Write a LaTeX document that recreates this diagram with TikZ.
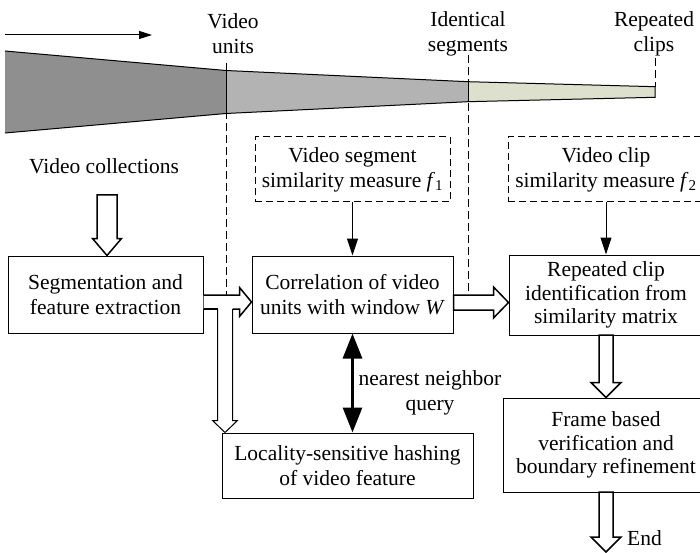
\documentclass[tikz,border=0pt]{standalone}
\usepackage{fontspec}
\setmainfont{Liberation Serif}
\usetikzlibrary{calc,arrows.meta}
\definecolor{fdark}{RGB}{143,143,143}
\definecolor{fmid}{RGB}{179,179,179}
\definecolor{flight}{RGB}{221,224,204}
% vertical hollow block arrow: #1 start (top centre), #2 tip, #3 half shaft, #4 half head, #5 head length
\newcommand\vblock[5]{\draw[barrow] ($(#1)+(-#3,0)$) -- ($(#2)+(-#3,-#5)$) -- ($(#2)+(-#4,-#5)$) -- (#2) -- ($(#2)+(#4,-#5)$) -- ($(#2)+(#3,-#5)$) -- ($(#1)+(#3,0)$) -- cycle;}
% horizontal hollow block arrow
\newcommand\hblock[5]{\draw[barrow] ($(#1)+(0,-#3)$) -- ($(#2)+(-#5,-#3)$) -- ($(#2)+(-#5,-#4)$) -- (#2) -- ($(#2)+(-#5,#4)$) -- ($(#2)+(-#5,#3)$) -- ($(#1)+(0,#3)$) -- cycle;}
\begin{document}
\begin{tikzpicture}[x=1pt,y=-1pt,
  font=\fontsize{21.5}{25}\selectfont,
  box/.style={draw, line width=1pt, inner sep=0pt, align=center, fill=white},
  dbox/.style={box, dash pattern=on 7pt off 4pt},
  lbl/.style={inner sep=0pt, align=center},
  barrow/.style={draw, line width=1.5pt, fill=white, line join=miter},
  guide/.style={line width=1pt, dash pattern=on 8pt off 4pt},
  thinarrow/.style={line width=1pt, -{Triangle[length=17pt 0 0,width=11pt 0 0]}}]
\useasboundingbox (0,0) rectangle (700,553);

% ---- labels at the top
\node[lbl] (vu) at (233,34) {Video\\units};
\node[lbl] (is) at (468,34) {Identical\\segments};
\node[lbl] (rc) at (654,34) {Repeated\\clips};

% ---- time arrow
\coordinate (ta) at (5,35);
\coordinate (tb) at (152,35);
\draw[line width=1pt, -{Triangle[length=13pt 0 0,width=8pt 0 0]}] (ta) -- (tb);

% ---- guide lines
\coordinate (g1a) at (226,63);  \coordinate (g1b) at (226,295);
\coordinate (g2a) at (468,55);  \coordinate (g2b) at (468,295);
\coordinate (g3a) at (655,58);  \coordinate (g3b) at (655,87);
\draw[guide] (g1a) -- (g1b);
\draw[guide] (g2a) -- (g2b);
\draw[guide] (g3a) -- (g3b);

% ---- funnel
\coordinate (fa) at (5,51);
\coordinate (fb) at (226,70.5);
\coordinate (fc) at (468,81.7);
\coordinate (fd) at (655,86.7);
\coordinate (fe) at (655,97.3);
\coordinate (ff) at (468,101.7);
\coordinate (fg) at (226,113.5);
\coordinate (fh) at (5,133);
\fill[fdark] (fa) -- (fb) -- (fg) -- (fh) -- cycle;
\fill[fmid] (fb) -- (fc) -- (ff) -- (fg) -- cycle;
\fill[flight] (fc) -- (fd) -- (fe) -- (ff) -- cycle;
\draw[line width=1pt] (fa) -- (fb) -- (fc) -- (fd) -- (fe) -- (ff) -- (fg) -- (fh);
\draw[line width=1pt] (fb) -- (fg);
\draw[line width=1pt] (fc) -- (ff);
\draw[line width=1pt] (g1a) -- (fb);

% ---- nodes
\node[lbl] (vc) at (104,166) {Video collections};
\node[dbox, minimum width=195, minimum height=65] (f1) at (352.5,169.5)
  {Video segment\\similarity measure \textit{f}\textsubscript{1}};
\node[dbox, minimum width=196, minimum height=65] (f2) at (606,169.5)
  {Video clip\\similarity measure \textit{f}\textsubscript{2}};
\node[box, minimum width=195, minimum height=77] (seg) at (105.5,294.5)
  {Segmentation and\\feature extraction};
\node[box, minimum width=201, minimum height=77] (corr) at (352.5,294.5)
  {Correlation of video\\units with window \textit{W}};
\node[box, minimum width=194, minimum height=80, font=\fontsize{21.5}{23.5}\selectfont] (rep) at (606,295)
  {Repeated clip\\identification from\\similarity matrix};
\node[box, minimum width=251, minimum height=65] (lsh) at (347.5,465.5)
  {Locality-sensitive hashing\\of video feature};
\node[box, minimum width=206, minimum height=94, font=\fontsize{21.5}{23.5}\selectfont] (frame) at (606,445)
  {Frame based\\verification and\\boundary refinement};
\node[lbl] (nn) at (430,393) {nearest neighbor\\query};
\node[lbl, anchor=base west] (end) at (627,545) {End};

% ---- thin arrows
\draw[thinarrow] (f1.south) -- (corr.north);
\draw[thinarrow] (f2.south) -- (rep.north);
\draw[line width=3pt, {Triangle[length=25pt 0 0,width=19pt 0 0]}-{Triangle[length=25pt 0 0,width=19pt 0 0]}]
  (corr.south) -- (corr.south |- lsh.north);

% ---- block arrows
\coordinate (v0) at (107,195);
\vblock{v0}{v0 |- seg.north}{10}{14.5}{17}
\coordinate (r0) at (606,335);
\vblock{r0}{r0 |- frame.north}{7}{15}{15}
\coordinate (fr0) at (606,492);
\coordinate (fr1) at (606,552);
\vblock{fr0}{fr1}{7}{15}{15}
\coordinate (h2s) at ($(corr.east)+(0,8)$);
\hblock{h2s}{h2s -| rep.west}{7.5}{15.5}{15}

% T-shaped arrow: segmentation -> correlation and down to hashing
\coordinate (h1s) at ($(seg.east)+(0,7.5)$);
\coordinate (h1t) at (corr.west |- h1s);
\coordinate (vt) at ($(lsh.north west)+(3.5,0)$);
\coordinate (vj) at (vt |- h1s);
\fill[white] ($(h1s)+(0,-7)$) -- ($(h1t)+(-12,-7)$) -- ($(h1t)+(-12,-14.5)$) -- (h1t)
  -- ($(h1t)+(-12,14.5)$) -- ($(h1t)+(-12,7)$) -- ($(vj)+(7.5,7)$) -- ($(vt)+(7.5,-12)$)
  -- ($(vt)+(12.5,-12)$) -- (vt) -- ($(vt)+(-12.5,-12)$) -- ($(vt)+(-7.5,-12)$)
  -- ($(vj)+(-7.5,7)$) -- ($(h1s)+(0,7)$) -- cycle;
\draw[line width=1.5pt, line join=miter] ($(h1s)+(0,-7)$) -- ($(h1t)+(-12,-7)$) -- ($(h1t)+(-12,-14.5)$) -- (h1t)
  -- ($(h1t)+(-12,14.5)$) -- ($(h1t)+(-12,7)$) -- ($(vj)+(7.5,7)$);
\draw[line width=1.5pt] ($(vj)+(-7.5,7)$) -- ($(h1s)+(0,7)$);
\draw[line width=1pt, line join=miter] ($(vj)+(7.5,7)$) -- ($(vt)+(7.5,-12)$)
  -- ($(vt)+(12.5,-12)$) -- (vt) -- ($(vt)+(-12.5,-12)$) -- ($(vt)+(-7.5,-12)$)
  -- ($(vj)+(-7.5,7)$);
\end{tikzpicture}
\end{document}
